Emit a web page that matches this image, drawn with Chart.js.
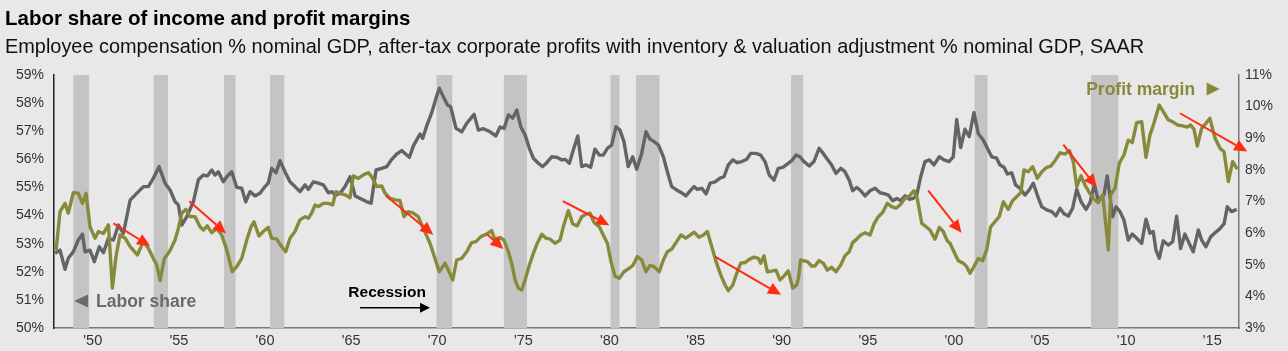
<!DOCTYPE html>
<html>
<head>
<meta charset="utf-8">
<title>Labor share of income and profit margins</title>
<script src="https://cdn.jsdelivr.net/npm/chart.js@4/dist/chart.umd.min.js"></script>
<style>
  html, body { margin: 0; padding: 0; background: #e8e8e8; }
  #wrap { width: 1288px; height: 351px; position: relative; }
</style>
</head>
<body>
<div id="wrap"><canvas id="chart"></canvas></div>
<script>
// labor share: employee compensation % nominal GDP (left axis)
const labourYears = [
    1947.81, 1948.10, 1948.39, 1948.58, 1948.87, 1949.16, 1949.40, 1949.55, 1949.84, 1950.09,
    1950.38, 1950.62, 1950.91, 1951.20, 1951.49, 1951.78, 1952.17, 1952.55, 1952.94, 1953.23,
    1953.52, 1953.85, 1954.20, 1954.49, 1954.78, 1954.97, 1955.17, 1955.46, 1955.84, 1956.13,
    1956.42, 1956.65, 1956.91, 1957.10, 1957.29, 1957.58, 1957.78, 1958.07, 1958.36, 1958.65,
    1958.88, 1959.13, 1959.42, 1959.71, 1960.00, 1960.19, 1960.39, 1960.64, 1960.87, 1961.16,
    1961.45, 1961.74, 1962.03, 1962.33, 1962.52, 1962.81, 1963.10, 1963.39, 1963.68, 1963.88,
    1964.07, 1964.36, 1964.65, 1964.94, 1965.23, 1965.62, 1965.91, 1966.16, 1966.45, 1966.78,
    1967.07, 1967.36, 1967.65, 1967.94, 1968.13, 1968.38, 1968.61, 1968.81, 1969.00, 1969.16,
    1969.39, 1969.68, 1969.93, 1970.12, 1970.35, 1970.59, 1970.78, 1971.09, 1971.42, 1971.71,
    1972.14, 1972.39, 1972.68, 1973.07, 1973.40, 1973.65, 1973.88, 1974.13, 1974.38, 1974.62,
    1974.85, 1975.10, 1975.35, 1975.58, 1975.87, 1976.12, 1976.36, 1976.65, 1976.94, 1977.23,
    1977.42, 1977.67, 1977.90, 1978.16, 1978.39, 1978.64, 1978.91, 1979.16, 1979.41, 1979.64,
    1979.88, 1980.13, 1980.38, 1980.61, 1980.84, 1981.09, 1981.35, 1981.58, 1981.87, 1982.12,
    1982.35, 1982.59, 1982.84, 1983.13, 1983.36, 1983.61, 1983.90, 1984.19, 1984.44, 1984.68,
    1984.91, 1985.10, 1985.36, 1985.61, 1985.84, 1986.13, 1986.42, 1986.65, 1986.90, 1987.16,
    1987.42, 1987.68, 1987.97, 1988.20, 1988.51, 1988.78, 1989.03, 1989.28, 1989.55, 1989.80,
    1990.09, 1990.32, 1990.58, 1990.83, 1991.06, 1991.29, 1991.60, 1991.87, 1992.17, 1992.41,
    1992.65, 1992.90, 1993.15, 1993.43, 1993.67, 1993.92, 1994.12, 1994.35, 1994.59, 1994.84,
    1995.13, 1995.42, 1995.71, 1996.00, 1996.19, 1996.44, 1996.68, 1996.91, 1997.16, 1997.41,
    1997.64, 1997.84, 1998.07, 1998.32, 1998.57, 1998.84, 1999.15, 1999.42, 1999.71, 1999.96,
    2000.16, 2000.39, 2000.64, 2000.89, 2001.16, 2001.41, 2001.70, 2001.94, 2002.19, 2002.48,
    2002.67, 2002.91, 2003.10, 2003.35, 2003.58, 2003.84, 2004.12, 2004.37, 2004.61, 2004.84,
    2005.10, 2005.39, 2005.68, 2005.92, 2006.16, 2006.39, 2006.64, 2006.89, 2007.13, 2007.38,
    2007.67, 2007.90, 2008.15, 2008.38, 2008.71, 2008.90, 2009.06, 2009.22, 2009.41, 2009.64,
    2009.87, 2010.12, 2010.35, 2010.61, 2010.90, 2011.15, 2011.38, 2011.57, 2011.73, 2011.92,
    2012.15, 2012.44, 2012.70, 2012.93, 2013.16, 2013.41, 2013.66, 2013.89, 2014.19, 2014.38,
    2014.63, 2014.91, 2015.16, 2015.40, 2015.68, 2015.87, 2016.12, 2016.42
];
const labourShare = [
    52.66, 52.77, 52.09, 52.48, 52.71, 53.13, 53.34, 52.71, 52.77, 52.36,
    52.89, 52.68, 53.19, 53.13, 53.66, 53.37, 54.55, 54.79, 55.03, 55.03,
    55.33, 55.74, 55.15, 54.91, 54.49, 54.38, 53.66, 53.96, 54.49, 55.27,
    55.44, 55.41, 55.62, 55.44, 55.56, 55.20, 55.38, 55.56, 55.00, 54.97,
    54.49, 54.85, 54.70, 54.79, 55.03, 55.15, 55.68, 55.52, 55.95, 55.56,
    55.20, 55.03, 54.85, 55.09, 54.93, 55.20, 55.15, 55.09, 54.81, 54.85,
    54.73, 54.79, 55.03, 55.38, 54.70, 54.58, 54.49, 54.44, 55.62, 55.68,
    55.74, 56.00, 56.19, 56.31, 56.21, 56.07, 56.47, 56.69, 56.90, 56.75,
    57.19, 57.66, 58.17, 58.53, 58.23, 57.93, 57.87, 57.10, 56.98, 57.28,
    57.60, 57.04, 57.09, 56.98, 56.83, 57.15, 57.10, 57.58, 57.46, 57.75,
    57.16, 56.87, 56.39, 56.04, 55.86, 55.74, 55.88, 56.09, 56.07, 55.98,
    56.00, 55.86, 56.33, 56.83, 55.74, 55.80, 55.72, 56.36, 56.15, 56.15,
    56.39, 56.51, 57.16, 57.04, 56.63, 55.74, 56.09, 55.65, 56.21, 56.98,
    56.72, 56.63, 56.51, 56.09, 55.56, 55.03, 54.91, 54.81, 54.70, 54.88,
    55.03, 54.93, 54.97, 54.77, 55.15, 55.20, 55.33, 55.38, 55.80, 55.98,
    55.88, 55.92, 56.00, 56.21, 56.21, 56.15, 55.92, 55.44, 55.26, 55.68,
    55.72, 55.83, 55.95, 56.15, 56.09, 55.92, 55.76, 55.92, 56.39, 56.21,
    56.00, 55.80, 55.50, 55.68, 55.56, 55.26, 54.88, 55.00, 54.88, 54.70,
    54.88, 54.97, 54.81, 54.77, 54.73, 54.53, 54.61, 54.53, 54.70, 54.58,
    54.61, 54.73, 55.38, 55.92, 55.98, 55.80, 56.09, 55.98, 55.92, 56.09,
    57.42, 56.42, 57.07, 56.81, 57.66, 56.92, 56.69, 56.39, 56.09, 56.04,
    55.80, 55.72, 55.48, 55.52, 55.09, 54.97, 54.73, 54.91, 55.15, 54.73,
    54.31, 54.20, 54.14, 53.99, 54.26, 54.06, 53.98, 54.26, 54.93, 54.49,
    54.22, 54.46, 55.09, 54.55, 54.73, 55.41, 54.67, 53.96, 54.31, 54.14,
    53.84, 53.13, 53.34, 53.19, 53.01, 53.87, 53.37, 53.43, 52.77, 52.48,
    53.10, 52.95, 53.07, 53.98, 52.83, 53.34, 53.01, 52.71, 53.49, 53.13,
    52.89, 53.25, 53.39, 53.51, 53.70, 54.31, 54.14, 54.22
];

// profit margin: after-tax corporate profits % nominal GDP (right axis)
const profitYears = [
    1947.87, 1948.10, 1948.39, 1948.58, 1948.87, 1949.16, 1949.40, 1949.61, 1949.84, 1950.13,
    1950.33, 1950.62, 1950.91, 1951.14, 1951.35, 1951.58, 1951.88, 1952.17, 1952.59, 1952.94,
    1953.23, 1953.52, 1953.72, 1953.91, 1954.16, 1954.45, 1954.78, 1954.97, 1955.17, 1955.40,
    1955.65, 1955.94, 1956.23, 1956.42, 1956.65, 1956.91, 1957.20, 1957.49, 1957.78, 1958.10,
    1958.36, 1958.65, 1958.94, 1959.19, 1959.36, 1959.65, 1959.90, 1960.19, 1960.39, 1960.68,
    1960.97, 1961.20, 1961.45, 1961.74, 1962.03, 1962.33, 1962.52, 1962.71, 1962.91, 1963.10,
    1963.39, 1963.68, 1963.93, 1964.12, 1964.36, 1964.65, 1964.94, 1965.13, 1965.42, 1965.71,
    1966.00, 1966.20, 1966.49, 1966.78, 1966.97, 1967.26, 1967.55, 1967.84, 1968.07, 1968.32,
    1968.61, 1968.90, 1969.19, 1969.58, 1969.87, 1970.12, 1970.45, 1970.69, 1970.90, 1971.13,
    1971.42, 1971.71, 1972.00, 1972.25, 1972.53, 1972.87, 1973.16, 1973.41, 1973.65, 1973.88,
    1974.13, 1974.32, 1974.52, 1974.71, 1974.91, 1975.10, 1975.35, 1975.58, 1975.81, 1976.07,
    1976.32, 1976.55, 1976.84, 1977.13, 1977.32, 1977.61, 1977.87, 1978.13, 1978.39, 1978.64,
    1978.87, 1979.12, 1979.41, 1979.64, 1979.88, 1980.09, 1980.32, 1980.57, 1980.84, 1981.15,
    1981.38, 1981.62, 1981.87, 1982.12, 1982.35, 1982.59, 1982.89, 1983.13, 1983.36, 1983.61,
    1983.90, 1984.15, 1984.43, 1984.68, 1984.91, 1985.20, 1985.45, 1985.68, 1985.94, 1986.19,
    1986.46, 1986.71, 1986.90, 1987.16, 1987.39, 1987.62, 1987.87, 1988.12, 1988.39, 1988.64,
    1988.78, 1988.97, 1989.16, 1989.42, 1989.67, 1989.90, 1990.13, 1990.38, 1990.64, 1990.87,
    1990.98, 1991.10, 1991.49, 1991.74, 1991.93, 1992.17, 1992.41, 1992.65, 1992.90, 1993.15,
    1993.43, 1993.67, 1993.92, 1994.12, 1994.35, 1994.59, 1994.84, 1995.13, 1995.36, 1995.61,
    1995.86, 1996.13, 1996.38, 1996.64, 1996.87, 1997.16, 1997.41, 1997.68, 1997.87, 1998.13,
    1998.38, 1998.61, 1998.90, 1999.15, 1999.38, 1999.61, 1999.77, 2000.00, 2000.25, 2000.54,
    2000.74, 2000.93, 2001.16, 2001.41, 2001.67, 2001.90, 2002.13, 2002.38, 2002.63, 2002.87,
    2003.15, 2003.41, 2003.64, 2003.88, 2004.07, 2004.32, 2004.57, 2004.84, 2005.10, 2005.39,
    2005.62, 2005.87, 2006.16, 2006.45, 2006.70, 2006.93, 2007.13, 2007.38, 2007.61, 2007.86,
    2008.13, 2008.38, 2008.64, 2008.83, 2008.96, 2009.10, 2009.35, 2009.60, 2009.87, 2010.12,
    2010.35, 2010.61, 2010.90, 2011.15, 2011.38, 2011.62, 2011.92, 2012.19, 2012.44, 2012.70,
    2012.97, 2013.28, 2013.55, 2013.74, 2013.94, 2014.13, 2014.38, 2014.63, 2014.86, 2015.16,
    2015.45, 2015.68, 2015.93, 2016.18, 2016.45
];
const profitMargin = [
    5.45, 6.68, 6.94, 6.63, 7.28, 7.26, 6.94, 7.26, 6.20, 5.84,
    6.05, 5.99, 6.26, 4.26, 5.26, 5.94, 5.84, 5.57, 5.31, 5.73,
    5.52, 5.20, 4.99, 4.50, 5.20, 5.41, 5.78, 6.15, 6.63, 6.75,
    6.52, 6.52, 6.20, 6.10, 6.23, 6.01, 6.15, 5.94, 5.47, 4.78,
    4.94, 5.20, 5.78, 6.20, 6.36, 5.91, 6.05, 6.18, 5.84, 5.81,
    5.57, 5.41, 5.84, 6.05, 6.42, 6.52, 6.47, 6.63, 6.89, 6.84,
    6.94, 6.94, 6.89, 7.31, 7.26, 7.21, 7.12, 7.81, 7.73, 7.84,
    7.91, 7.78, 7.47, 7.49, 7.26, 7.10, 7.05, 7.03, 6.52, 6.68,
    6.63, 6.52, 6.15, 5.68, 5.20, 4.78, 5.05, 4.78, 4.52, 5.15,
    5.20, 5.41, 5.70, 5.73, 5.89, 5.97, 6.08, 5.70, 5.86, 5.78,
    5.41, 5.05, 4.52, 4.26, 4.20, 4.52, 4.99, 5.36, 5.68, 5.96,
    5.84, 5.81, 5.68, 5.78, 6.20, 6.71, 6.29, 6.23, 6.52, 6.60,
    6.63, 6.33, 6.20, 5.94, 5.68, 5.10, 4.64, 4.57, 4.78, 4.89,
    4.99, 5.26, 5.15, 4.78, 4.98, 4.94, 4.78, 5.15, 5.41, 5.49,
    5.73, 5.94, 5.84, 5.94, 6.03, 5.87, 5.94, 6.05, 5.57, 5.10,
    4.68, 4.36, 4.18, 4.36, 4.73, 5.05, 5.07, 5.17, 5.24, 5.20,
    5.05, 5.28, 4.78, 4.80, 4.83, 4.52, 4.64, 4.81, 4.26, 4.36,
    4.60, 5.15, 5.10, 4.96, 4.96, 5.13, 5.05, 4.83, 4.92, 4.78,
    4.99, 5.28, 5.41, 5.70, 5.81, 5.94, 6.01, 5.94, 6.29, 6.52,
    6.65, 6.94, 6.84, 6.79, 6.89, 7.10, 7.17, 7.34, 7.10, 6.31,
    6.20, 6.10, 5.81, 6.18, 6.05, 5.76, 5.68, 5.41, 5.13, 5.05,
    4.94, 4.73, 4.94, 5.20, 5.13, 5.47, 6.20, 6.36, 6.52, 6.99,
    6.75, 7.03, 7.15, 7.28, 8.00, 7.94, 8.10, 7.73, 7.94, 8.08,
    8.12, 8.29, 8.54, 8.50, 8.61, 8.26, 7.47, 7.81, 7.52, 7.28,
    7.07, 6.96, 7.21, 6.20, 5.47, 7.21, 7.42, 8.21, 8.47, 8.94,
    8.86, 9.49, 9.52, 8.40, 9.10, 9.49, 10.05, 9.81, 9.58, 9.52,
    9.42, 9.39, 9.35, 9.42, 9.28, 8.75, 9.31, 9.47, 9.63, 9.00,
    8.68, 8.57, 7.63, 8.26, 8.02
];

// NBER recessions, decimal years
const recessionStarts = [1948.87, 1953.54, 1957.62, 1960.29, 1969.96, 1973.87, 1980.06, 1981.54, 1990.54, 2001.20, 2007.96];
const recessionEnds   = [1949.79, 1954.37, 1958.29, 1961.12, 1970.87, 1975.21, 1980.58, 1982.90, 1991.25, 2001.95, 2009.54];

const yearTicks = [1950, 1955, 1960, 1965, 1970, 1975, 1980, 1985, 1990, 1995, 2000, 2005, 2010, 2015];

// red arrows: [from year, from %, to year, to %] on the profit margin axis
const redArrows = [
    [1951.20, 6.31, 1953.33, 5.59],
    [1955.61, 7.01, 1957.74, 5.99],
    [1967.02, 7.18, 1969.77, 5.95],
    [1972.88, 5.97, 1973.84, 5.50],
    [1977.29, 7.01, 1979.99, 6.25],
    [1986.13, 5.26, 1989.96, 4.05],
    [1998.51, 7.34, 2000.44, 6.01],
    [2006.35, 8.80, 2008.29, 7.45],
    [2013.12, 9.79, 2017.03, 8.58]
];

const GREY = '#646464';
const OLIVE = '#878a3b';
const RED = '#ff2c10';
const FONT = "'Liberation Sans', Arial, Helvetica, sans-serif";

Chart.defaults.font.family = FONT;

function drawArrow(ctx, x1, y1, x2, y2, color, width, head, half) {
    const a = Math.atan2(y2 - y1, x2 - x1);
    const bx = x2 - head * Math.cos(a);
    const by = y2 - head * Math.sin(a);
    ctx.strokeStyle = color;
    ctx.lineWidth = width;
    ctx.beginPath();
    ctx.moveTo(x1, y1);
    ctx.lineTo(bx, by);
    ctx.stroke();
    ctx.fillStyle = color;
    ctx.beginPath();
    ctx.moveTo(x2, y2);
    ctx.lineTo(bx + half * Math.sin(a), by - half * Math.cos(a));
    ctx.lineTo(bx - half * Math.sin(a), by + half * Math.cos(a));
    ctx.closePath();
    ctx.fill();
}

const recessionBands = {
    id: 'recessionBands',
    beforeDatasetsDraw(chart) {
        const { ctx, chartArea, scales } = chart;
        ctx.save();
        ctx.fillStyle = '#c4c4c4';
        recessionStarts.forEach((s, i) => {
            const x1 = scales.x.getPixelForValue(s);
            const x2 = scales.x.getPixelForValue(recessionEnds[i]);
            ctx.fillRect(x1, chartArea.top, x2 - x1, chartArea.bottom - chartArea.top);
        });
        ctx.restore();
    }
};

const annotations = {
    id: 'annotations',
    afterDraw(chart) {
        const { ctx, scales } = chart;
        const x = scales.x, yL = scales.yL, yR = scales.yR;
        ctx.save();

        redArrows.forEach(a => {
            drawArrow(ctx, x.getPixelForValue(a[0]), yR.getPixelForValue(a[1]),
                x.getPixelForValue(a[2]), yR.getPixelForValue(a[3]), RED, 2, 13, 6);
        });

        // recession key
        ctx.fillStyle = '#000';
        ctx.font = 'bold 15.5px ' + FONT;
        ctx.textAlign = 'center';
        ctx.textBaseline = 'alphabetic';
        ctx.fillText('Recession', x.getPixelForValue(1967.09), yL.getPixelForValue(51.09));
        drawArrow(ctx, x.getPixelForValue(1965.52), yL.getPixelForValue(50.72),
            x.getPixelForValue(1969.58), yL.getPixelForValue(50.72), '#000', 1.5, 10, 5);

        // series labels
        ctx.font = 'bold 17.5px ' + FONT;
        ctx.fillStyle = '#6b6b6b';
        ctx.textAlign = 'left';
        ctx.fillText('Labor share', x.getPixelForValue(1950.19), yL.getPixelForValue(50.73));
        let tx = x.getPixelForValue(1948.92), ty = yL.getPixelForValue(50.96);
        ctx.beginPath();
        ctx.moveTo(tx, ty);
        ctx.lineTo(tx + 14, ty - 6.5);
        ctx.lineTo(tx + 14, ty + 6.5);
        ctx.closePath();
        ctx.fill();

        ctx.fillStyle = OLIVE;
        ctx.textAlign = 'right';
        ctx.fillText('Profit margin', x.getPixelForValue(2014.0), yR.getPixelForValue(10.38));
        tx = x.getPixelForValue(2014.67);
        ty = yR.getPixelForValue(10.56);
        ctx.beginPath();
        ctx.moveTo(tx, ty - 6.5);
        ctx.lineTo(tx + 13, ty);
        ctx.lineTo(tx, ty + 6.5);
        ctx.closePath();
        ctx.fill();

        ctx.restore();
    }
};

const data = {
    datasets: [
        {
            label: 'Profit margin',
            data: profitYears.map((yr, i) => ({ x: yr, y: profitMargin[i] })),
            yAxisID: 'yR',
            borderColor: OLIVE,
            borderWidth: 3.4,
            pointRadius: 0,
            tension: 0,
            borderJoinStyle: 'round',
            order: 0
        },
        {
            label: 'Labor share',
            data: labourYears.map((yr, i) => ({ x: yr, y: labourShare[i] })),
            yAxisID: 'yL',
            borderColor: GREY,
            borderWidth: 3.4,
            pointRadius: 0,
            tension: 0,
            borderJoinStyle: 'round',
            order: 1
        }
    ]
};

const config = {
    type: 'line',
    data: data,
    options: {
        responsive: true,
        maintainAspectRatio: false,
        animation: false,
        layout: { padding: { left: 5, top: 0, right: 0, bottom: 0 } },
        plugins: {
            legend: { display: false },
            tooltip: { enabled: false },
            title: {
                display: true,
                text: 'Labor share of income and profit margins',
                align: 'start',
                color: '#000',
                font: { size: 20.5, weight: 'bold' },
                padding: { top: 7, bottom: 4 }
            },
            subtitle: {
                display: true,
                text: 'Employee compensation % nominal GDP, after-tax corporate profits with inventory & valuation adjustment % nominal GDP, SAAR',
                align: 'start',
                color: '#111',
                font: { size: 19.9 },
                padding: { top: 0, bottom: 15.5 }
            }
        },
        scales: {
            x: {
                type: 'linear',
                min: 1947.75,
                max: 2016.55,
                afterBuildTicks: s => { s.ticks = yearTicks.map(v => ({ value: v })); },
                afterFit: s => { s.height = 23; },
                ticks: {
                    autoSkip: false,
                    maxRotation: 0,
                    padding: 4,
                    color: '#333',
                    font: { size: 14.5 },
                    callback: v => "'" + String(v).slice(2)
                },
                grid: { display: false, drawTicks: false },
                border: { display: true, color: '#777', width: 1.5 }
            },
            yL: {
                position: 'left',
                min: 50,
                max: 59,
                afterFit: s => { s.width = 49; },
                ticks: {
                    stepSize: 1,
                    padding: 10,
                    color: '#333',
                    font: { size: 14 },
                    callback: v => v + '%'
                },
                grid: { display: false, drawTicks: false },
                border: { display: true, color: '#222', width: 1.5 }
            },
            yR: {
                position: 'right',
                min: 3,
                max: 11,
                afterFit: s => { s.width = 49; },
                ticks: {
                    stepSize: 1,
                    padding: 6,
                    color: '#333',
                    font: { size: 14 },
                    callback: v => v + '%'
                },
                grid: { display: false, drawTicks: false },
                border: { display: true, color: '#777', width: 1.5 }
            }
        }
    },
    plugins: [recessionBands, annotations]
};

const chart = new Chart(document.getElementById('chart'), config);
</script>
</body>
</html>
